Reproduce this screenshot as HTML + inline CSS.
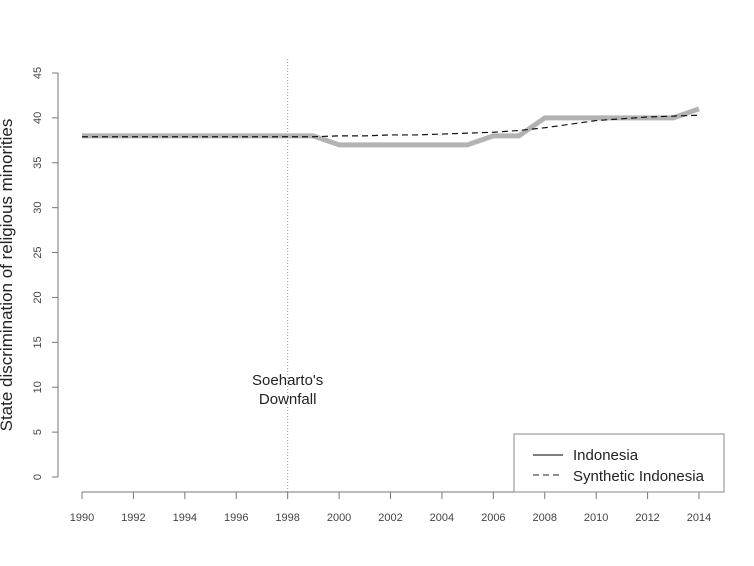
<!DOCTYPE html>
<html><head><meta charset="utf-8"><style>body{margin:0;background:#fff}svg{display:block;font-family:"Liberation Sans",sans-serif}</style></head>
<body>
<svg id="chart" width="754" height="566" viewBox="0 0 754 566"></svg>
<script>
const years=[1990,1991,1992,1993,1994,1995,1996,1997,1998,1999,2000,2001,2002,2003,2004,2005,2006,2007,2008,2009,2010,2011,2012,2013,2014];
const indonesia=[38,38,38,38,38,38,38,38,38,38,37,37,37,37,37,37,38,38,40,40,40,40,40,40,41];
const synthetic=[37.9,37.9,37.9,37.9,37.9,37.9,37.9,37.9,37.9,37.9,38.0,38.0,38.1,38.1,38.2,38.3,38.4,38.6,38.9,39.3,39.7,39.9,40.1,40.2,40.3];
const xTicks=[1990,1992,1994,1996,1998,2000,2002,2004,2006,2008,2010,2012,2014];
const yTicks=[0,5,10,15,20,25,30,35,40,45];
const svg=document.getElementById('chart');const NS='http://www.w3.org/2000/svg';
const X=v=>82+(v-1990)*(699-82)/24, Y=v=>477-v*(477-73)/45;
function mk(t,a,p){const e=document.createElementNS(NS,t);for(const k in a)e.setAttribute(k,a[k]);(p||svg).appendChild(e);return e;}
let g=mk('g',{});


mk('line',{x1:58,y1:Y(0),x2:58,y2:Y(45),stroke:'#777'},g);
yTicks.forEach(v=>{mk('line',{x1:52,x2:58,y1:Y(v),y2:Y(v),stroke:'#777'},g);
const t=mk('text',{x:41,y:Y(v),'font-size':11,fill:'#444','text-anchor':'middle',transform:`rotate(-90 41 ${Y(v)})`},g);t.textContent=v;

});
g=mk('g',{});


mk('line',{x1:X(1990),x2:X(2014),y1:492,y2:492,stroke:'#777'},g);
xTicks.forEach(v=>{mk('line',{x1:X(v),x2:X(v),y1:492,y2:499,stroke:'#777'},g);
const t=mk('text',{x:X(v),y:521,'font-size':11,fill:'#444','text-anchor':'middle'},g);t.textContent=v;

});
let t=mk('text',{x:12,y:275,'font-size':17,fill:'#222','text-anchor':'middle',transform:'rotate(-90 12 275)'});
t.textContent='State discrimination of religious minorities';


let l=mk('line',{x1:X(1998),x2:X(1998),y1:59,y2:492,stroke:'#999','stroke-dasharray':'1 2'});


t=mk('text',{x:X(1998),y:385,'font-size':15,fill:'#222','text-anchor':'middle'});
t.innerHTML='<tspan x="'+X(1998)+'">Soeharto\'s</tspan><tspan x="'+X(1998)+'" dy="19">Downfall</tspan>';


const pts=a=>a.map((v,i)=>X(years[i])+','+Y(v)).join(' ');
l=mk('polyline',{points:pts(indonesia),fill:'none',stroke:'#b3b3b3','stroke-width':5,'stroke-linejoin':'round'});


l=mk('polyline',{points:pts(synthetic),fill:'none',stroke:'#111','stroke-width':1.2,'stroke-dasharray':'6 4'});


g=mk('g',{});


mk('rect',{x:514,y:434,width:210,height:58,fill:'#fff',stroke:'#888'},g);
mk('line',{x1:533,x2:563,y1:455,y2:455,stroke:'#555','stroke-width':1.5},g);
mk('line',{x1:533,x2:563,y1:475,y2:475,stroke:'#222','stroke-dasharray':'6 4'},g);
t=mk('text',{x:573,y:460,'font-size':15,fill:'#222'},g);t.textContent='Indonesia';


t=mk('text',{x:573,y:481,'font-size':15,fill:'#222'},g);t.textContent='Synthetic Indonesia';


</script>
</body></html>
